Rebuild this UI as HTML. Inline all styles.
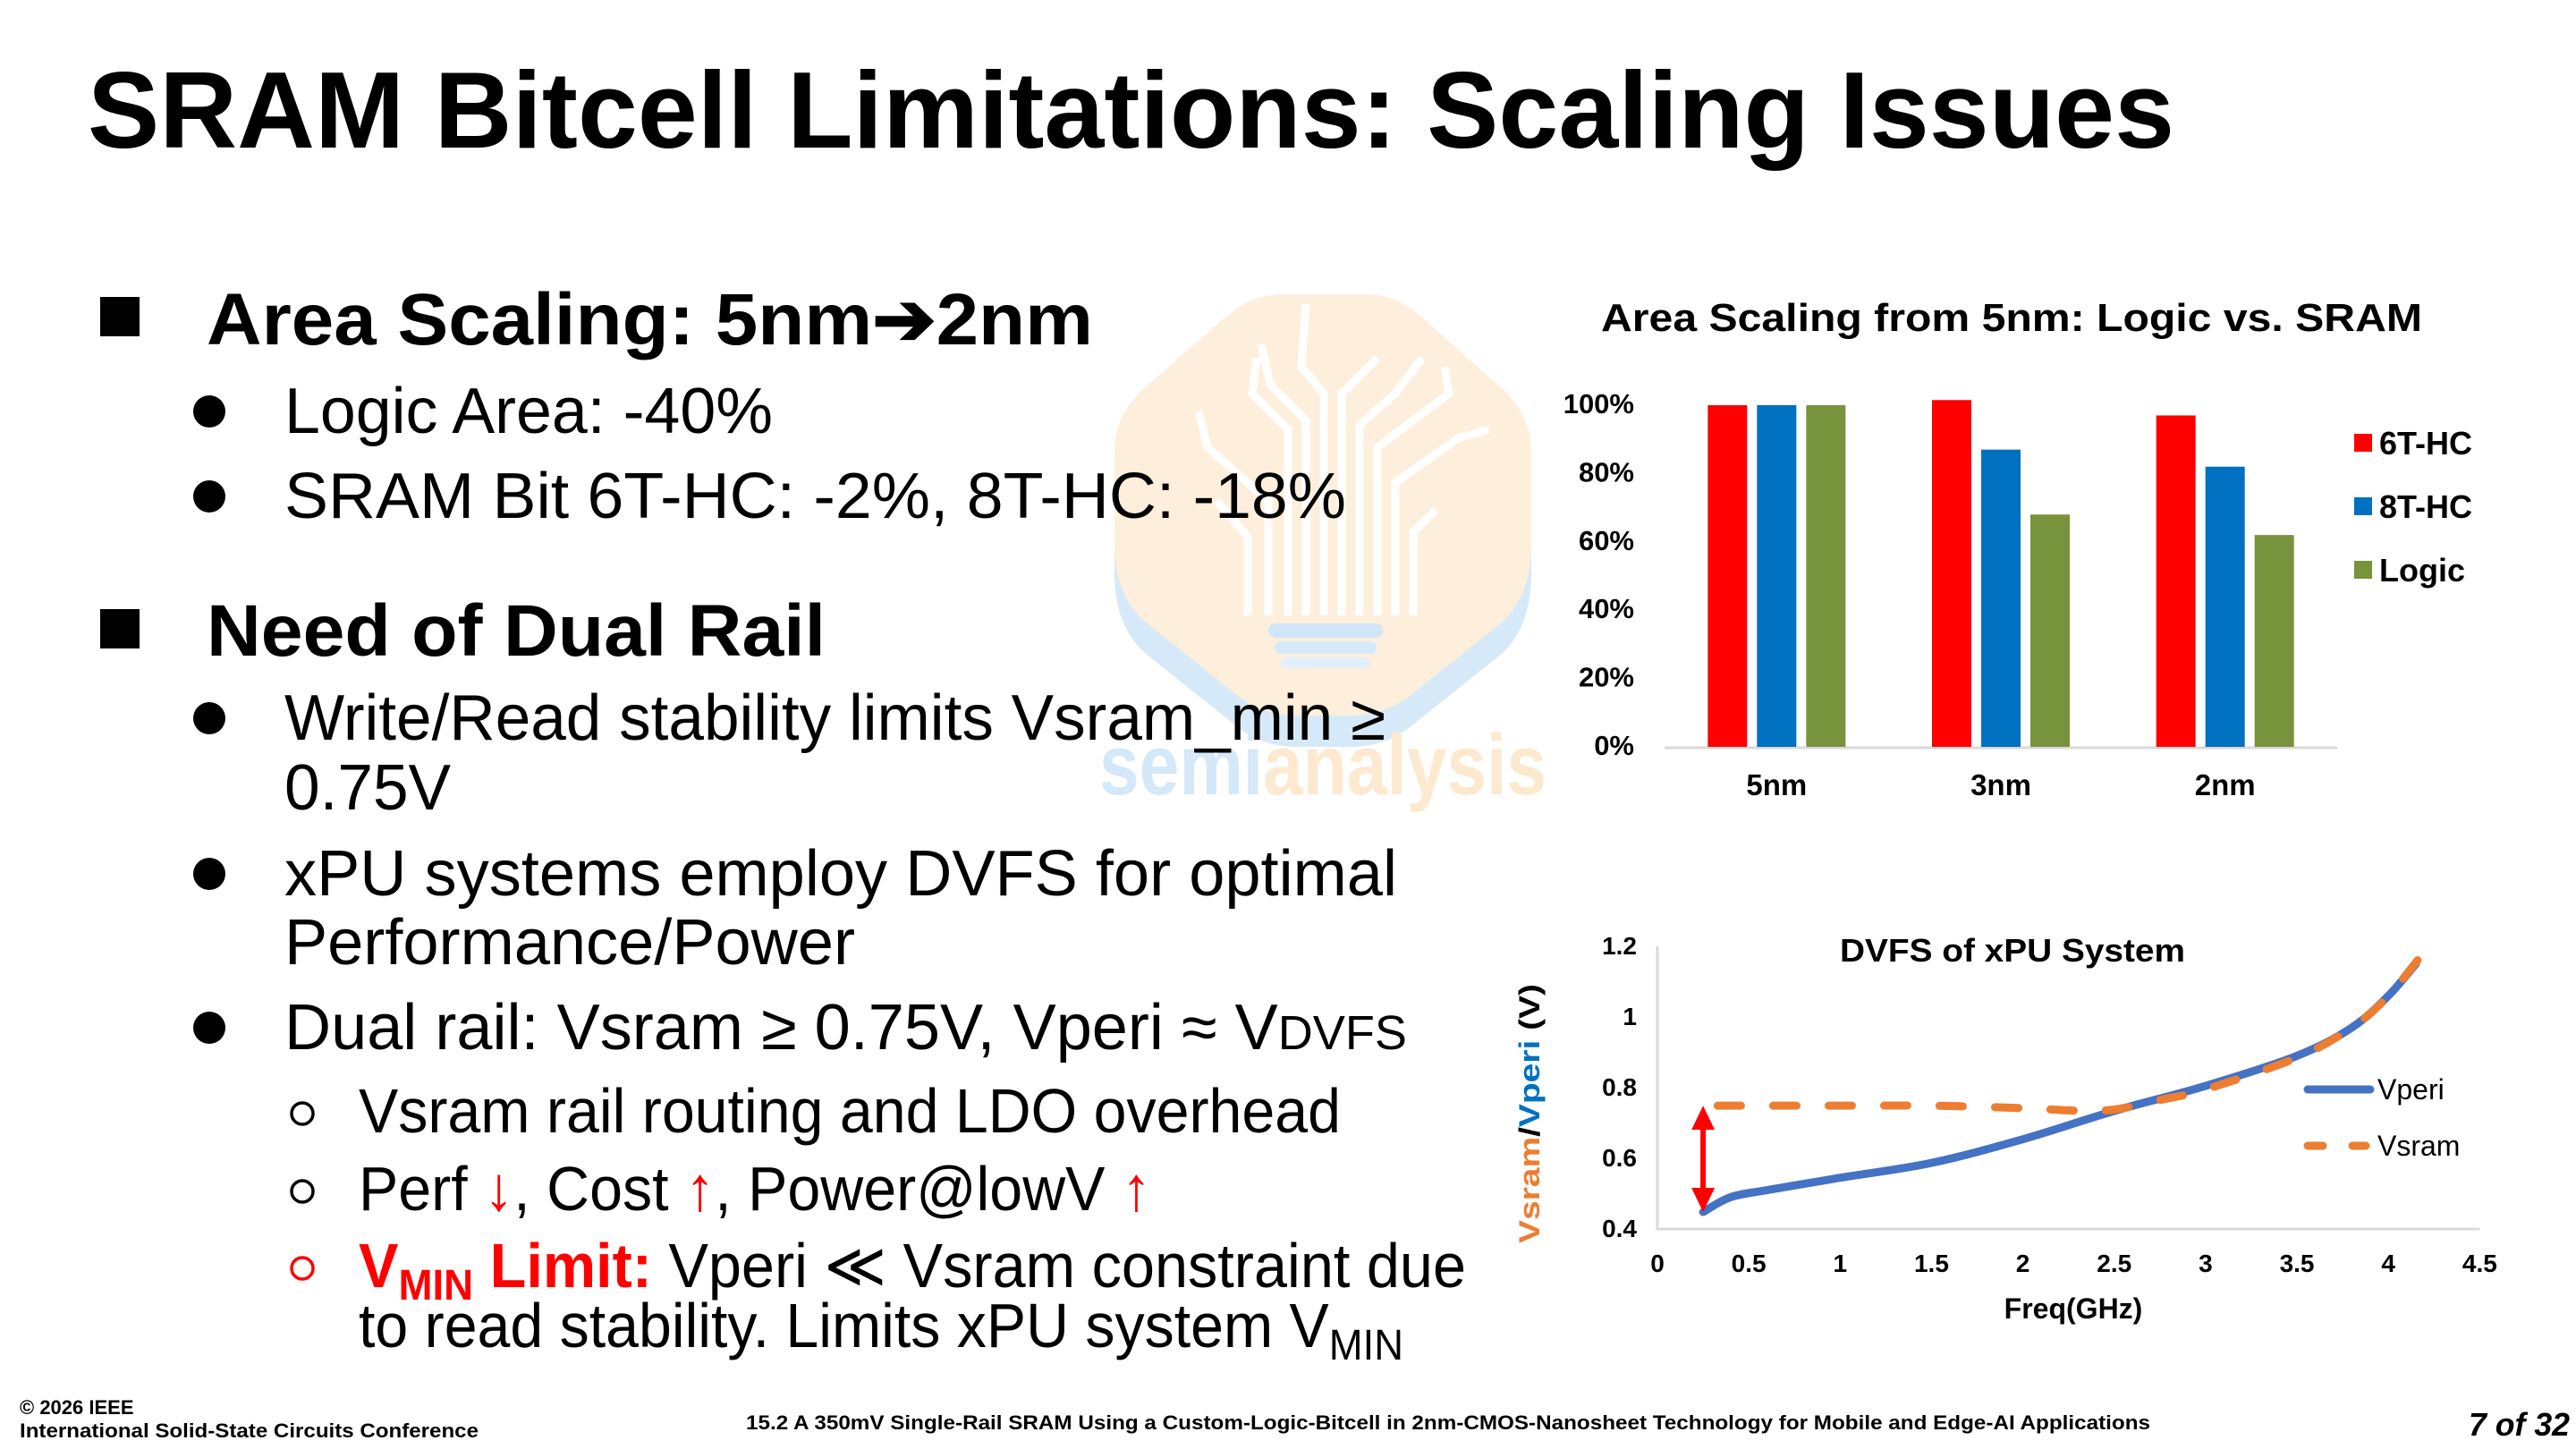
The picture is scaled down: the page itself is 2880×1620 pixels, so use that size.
<!DOCTYPE html>
<html><head><meta charset="utf-8"><style>
html,body{margin:0;padding:0;background:#fff;}
svg{display:block;font-family:"Liberation Sans",Arial,sans-serif;}
</style></head><body>
<svg id="slide" width="2880" height="1620" viewBox="0 0 2880 1620" xmlns="http://www.w3.org/2000/svg">
<rect width="2880" height="1620" fill="#fff"/>
<g>
  <path d="M1430 364 L1530 364 Q1560 364 1590 390 L1680 470 Q1712 500 1712 540 L1712 640 Q1712 700 1680 730 L1580 810 Q1550 835 1510 835 L1450 835 Q1410 835 1380 810 L1280 730 Q1246 700 1246 640 L1246 540 Q1246 500 1278 470 L1370 390 Q1400 364 1430 364 Z" fill="#d6e9f8"/>
  <path d="M1430 329 L1530 329 Q1560 329 1590 355 L1680 435 Q1712 465 1712 505 L1712 610 Q1712 665 1680 695 L1580 775 Q1550 800 1510 800 L1450 800 Q1410 800 1380 775 L1280 695 Q1246 665 1246 610 L1246 505 Q1246 465 1278 435 L1370 355 Q1400 329 1430 329 Z" fill="#fdefdb"/>
  <g stroke="#fff" stroke-width="9" fill="none">
    <path d="M1395 688 V600 L1360 560 M1418 688 V560 L1350 500 L1340 460 M1440 688 V480 L1400 440 L1405 400 M1460 688 V470 L1420 430 L1410 385 M1480 688 V440 L1455 410 L1460 340 M1500 688 V440 L1540 400 M1520 688 V475 L1560 440 L1590 400 M1540 688 V500 L1620 440 L1615 410 M1560 688 V540 L1630 490 L1665 480 M1580 688 V595 L1605 570"/>
  </g>
  <rect x="1418" y="697" width="128" height="16" rx="8" fill="#cfe5f8"/>
  <rect x="1425" y="717" width="114" height="14" rx="7" fill="#d6e9f8"/>
  <rect x="1432" y="735" width="100" height="12" rx="6" fill="#e2f0fb"/>
  <text x="1229" y="888" font-size="96" font-weight="bold" fill="#d3e8f8" textLength="500" lengthAdjust="spacingAndGlyphs">semi<tspan fill="#fde9cf">analysis</tspan></text>
</g>

<text x="98" y="165" font-size="122" font-weight="bold" fill="#000" textLength="2333" lengthAdjust="spacingAndGlyphs">SRAM Bitcell Limitations: Scaling Issues</text>

<g fill="#000">
  <rect x="112" y="332" width="44" height="44"/>
  <text x="231" y="385" font-size="82" font-weight="bold" textLength="991" lengthAdjust="spacingAndGlyphs">Area Scaling: 5nm➔2nm</text>
  <circle cx="234" cy="460" r="18"/>
  <text x="318" y="484" font-size="72" textLength="546" lengthAdjust="spacingAndGlyphs">Logic Area: -40%</text>
  <circle cx="234" cy="555" r="18"/>
  <text x="318" y="579" font-size="72" textLength="1187" lengthAdjust="spacingAndGlyphs">SRAM Bit  6T-HC: -2%, 8T-HC: -18%</text>
  <rect x="112" y="681" width="44" height="44"/>
  <text x="231" y="733" font-size="82" font-weight="bold" textLength="692" lengthAdjust="spacingAndGlyphs">Need of Dual Rail</text>
  <circle cx="234" cy="803" r="18"/>
  <text x="318" y="827" font-size="72" textLength="1231" lengthAdjust="spacingAndGlyphs">Write/Read stability limits Vsram_min ≥</text>
  <text x="318" y="905" font-size="72" textLength="186" lengthAdjust="spacingAndGlyphs">0.75V</text>
  <circle cx="234" cy="977" r="18"/>
  <text x="318" y="1001" font-size="72" textLength="1244" lengthAdjust="spacingAndGlyphs">xPU systems employ DVFS for optimal</text>
  <text x="318" y="1078" font-size="72" textLength="638" lengthAdjust="spacingAndGlyphs">Performance/Power</text>
  <circle cx="234" cy="1149" r="18"/>
  <text x="318" y="1173" font-size="72" textLength="1255" lengthAdjust="spacingAndGlyphs">Dual rail: Vsram ≥ 0.75V, Vperi ≈ V<tspan font-size="54">DVFS</tspan></text>
  <circle cx="338" cy="1245" r="12" fill="none" stroke="#000" stroke-width="3.5"/>
  <text x="401" y="1266" font-size="70" textLength="1098" lengthAdjust="spacingAndGlyphs">Vsram rail routing and LDO overhead</text>
  <circle cx="338" cy="1332" r="12" fill="none" stroke="#000" stroke-width="3.5"/>
  <text x="401" y="1353" font-size="70" textLength="886" lengthAdjust="spacingAndGlyphs">Perf <tspan fill="#f00">↓</tspan>, Cost <tspan fill="#f00">↑</tspan>, Power@lowV <tspan fill="#f00">↑</tspan></text>
  <circle cx="338" cy="1418" r="12" fill="none" stroke="#f00" stroke-width="3.5"/>
  <text x="401" y="1439" font-size="70" textLength="1238" lengthAdjust="spacingAndGlyphs"><tspan fill="#f00" font-weight="bold">V<tspan font-size="48" dy="14">MIN</tspan><tspan dy="-14"> Limit:</tspan></tspan> Vperi ≪ Vsram  constraint due</text>
  <text x="401" y="1506" font-size="70" textLength="1168" lengthAdjust="spacingAndGlyphs">to read stability. Limits xPU system V<tspan font-size="48" dy="14">MIN</tspan></text>
</g>

<g id="bar-chart"></g>
<g id="line-chart"></g>

<g font-weight="bold" fill="#000">
  <text x="22" y="1581" font-size="22">© 2026 IEEE</text>
  <text x="22" y="1607" font-size="22" textLength="513" lengthAdjust="spacingAndGlyphs">International Solid-State Circuits Conference</text>
  <text x="834" y="1598" font-size="22" textLength="1570" lengthAdjust="spacingAndGlyphs">15.2 A 350mV Single-Rail SRAM Using a Custom-Logic-Bitcell in 2nm-CMOS-Nanosheet Technology for Mobile and Edge-AI Applications</text>
  <text x="2760" y="1605" font-size="36" font-style="italic" textLength="113" lengthAdjust="spacingAndGlyphs">7 of 32</text>
</g>
</svg>
<script>
const NS="http://www.w3.org/2000/svg";
// ---- bar chart data ----
const barCategories=["5nm","3nm","2nm"];
const barSeriesNames=["6T-HC","8T-HC","Logic"];
const bar6T=[100,101.5,97];
const bar8T=[100,87,82];
const barLogic=[100,68,62];
const barTicks=[0,20,40,60,80,100];
// ---- line chart data ----
const freqTicks=[0,0.5,1,1.5,2,2.5,3,3.5,4,4.5];
const voltTicks=[0.4,0.6,0.8,1,1.2];
const vperiX=[0.25,0.4,0.6,1,1.5,2,2.5,3,3.5,3.8,4,4.15];
const vperiY=[0.448,0.49,0.51,0.545,0.587,0.654,0.734,0.805,0.89,0.97,1.06,1.15];
const vsramX=[0.33,1,1.5,2,2.3,2.5,2.75,3,3.5,3.8,4,4.22];
const vsramY=[0.749,0.749,0.749,0.742,0.735,0.738,0.765,0.795,0.885,0.97,1.06,1.2];

function mk(tag,attrs,parent){const e=document.createElementNS(NS,tag);for(const k in attrs)e.setAttribute(k,attrs[k]);parent.appendChild(e);return e;}

(function(){
  const g=document.getElementById('bar-chart');
  const y0=835,y100=453,xL=1861,xR=2613;
  const ys=v=>y0-(v/100)*(y0-y100);
  const groupW=(xR-xL)/barCategories.length;
  const bw=44,gap=11;
  const colors=["#FF0000","#0070C0","#77933C"];
  const series=[bar6T,bar8T,barLogic];
  const t=mk('text',{x:2249,y:370,'font-size':44,'font-weight':'bold','text-anchor':'middle',textLength:918,lengthAdjust:'spacingAndGlyphs'},g);
  t.textContent="Area Scaling from 5nm: Logic vs. SRAM";
  
  
  barTicks.forEach(v=>{const tx=mk('text',{x:1827,y:ys(v)+9,'font-size':31,'font-weight':'bold','text-anchor':'end'},g);tx.textContent=v+"%";
    
    });
  const ax=mk('line',{x1:xL,x2:xR,y1:y0+1,y2:y0+1,stroke:'#d9d9d9','stroke-width':3},g);
  
  
  barCategories.forEach((c,i)=>{
    const cx=xL+groupW*(i+0.5);
    series.forEach((s,j)=>{
      const x=cx+(j-1)*(bw+gap)-bw/2;
      const r=mk('rect',{x:x,y:ys(s[i]),width:bw,height:y0-ys(s[i]),fill:colors[j]},g);
      
      
    });
    const l=mk('text',{x:cx,y:889,'font-size':33,'font-weight':'bold','text-anchor':'middle'},g);l.textContent=c;
    
    
  });
  barSeriesNames.forEach((n,j)=>{
    const yy=495+j*71;
    const sq=mk('rect',{x:2632,y:yy-10,width:20,height:20,fill:colors[j]},g);
    
    
    const lt=mk('text',{x:2660,y:yy+13,'font-size':36,'font-weight':'bold'},g);lt.textContent=n;
    
    
  });
})();

(function(){
  const g=document.getElementById('line-chart');
  const x0=1853,pxG=204.3,yB=1374,pxV=395;
  const xs=f=>x0+f*pxG, ys=v=>yB-(v-0.4)*pxV;
  const ax=mk('path',{d:`M${xs(0)} ${ys(1.2)} V${ys(0.4)} H${xs(4.5)}`,stroke:'#d9d9d9','stroke-width':3,fill:'none'},g);
  
  
  voltTicks.forEach(v=>{const t=mk('text',{x:1830,y:ys(v)+9,'font-size':28,'font-weight':'bold','text-anchor':'end'},g);t.textContent=String(v);
    
    });
  freqTicks.forEach(f=>{const t=mk('text',{x:xs(f),y:1422,'font-size':28,'font-weight':'bold','text-anchor':'middle'},g);t.textContent=String(f);
    
    });
  const tt=mk('text',{x:2250,y:1075,'font-size':36,'font-weight':'bold','text-anchor':'middle',textLength:386,lengthAdjust:'spacingAndGlyphs'},g);tt.textContent="DVFS of xPU System";
  
  
  const xt=mk('text',{x:2318,y:1474,'font-size':32,'font-weight':'bold','text-anchor':'middle'},g);xt.textContent="Freq(GHz)";
  
  
  const yt=mk('text',{x:0,y:0,'font-size':32,'font-weight':'bold','text-anchor':'middle',transform:'translate(1721 1245) rotate(-90)',textLength:290,lengthAdjust:'spacingAndGlyphs'},g);
  yt.innerHTML='<tspan fill="#ED7D31">Vsram</tspan><tspan fill="#000">/</tspan><tspan fill="#0070C0">Vperi</tspan><tspan fill="#000"> (V)</tspan>';
  
  
  function smooth(X,Y){const p=X.map((x,i)=>[xs(x),ys(Y[i])]);let d=`M${p[0][0]} ${p[0][1]}`;
    for(let i=0;i<p.length-1;i++){const a=p[i-1]||p[i],b=p[i],c=p[i+1],e=p[i+2]||c;
      d+=` C${b[0]+(c[0]-a[0])/6} ${b[1]+(c[1]-a[1])/6} ${c[0]-(e[0]-b[0])/6} ${c[1]-(e[1]-b[1])/6} ${c[0]} ${c[1]}`;}
    return d;}
  const lp=mk('path',{d:smooth(vperiX,vperiY),stroke:'#4472C4','stroke-width':9,fill:'none','stroke-linecap':'round'},g);
  
  
  const ls=mk('path',{d:smooth(vsramX,vsramY),stroke:'#ED7D31','stroke-width':9,fill:'none','stroke-linecap':'round','stroke-dasharray':'26 36'},g);
  
  
  const ax0=xs(vperiX[0]),ya=ys(vsramY[0]),yb=ys(vperiY[0]);
  const arr=mk('path',{d:`M${ax0} ${ya} L${ax0+13} ${ya+27} L${ax0+3} ${ya+27} L${ax0+3} ${yb-27} L${ax0+13} ${yb-27} L${ax0} ${yb} L${ax0-13} ${yb-27} L${ax0-3} ${yb-27} L${ax0-3} ${ya+27} L${ax0-13} ${ya+27} Z`,fill:'#FF0000'},g);
  
  
  const l1=mk('line',{x1:2580,x2:2650,y1:1218,y2:1218,stroke:'#4472C4','stroke-width':9,'stroke-linecap':'round'},g);
  
  
  const t1=mk('text',{x:2658,y:1229,'font-size':32},g);t1.textContent="Vperi";
  
  
  const l2=mk('path',{d:'M2580 1281 H2597 M2630 1281 H2645',stroke:'#ED7D31','stroke-width':9,'stroke-linecap':'round'},g);
  
  
  const t2=mk('text',{x:2658,y:1292,'font-size':32},g);t2.textContent="Vsram";
  
  
})();
</script>
</body></html>
